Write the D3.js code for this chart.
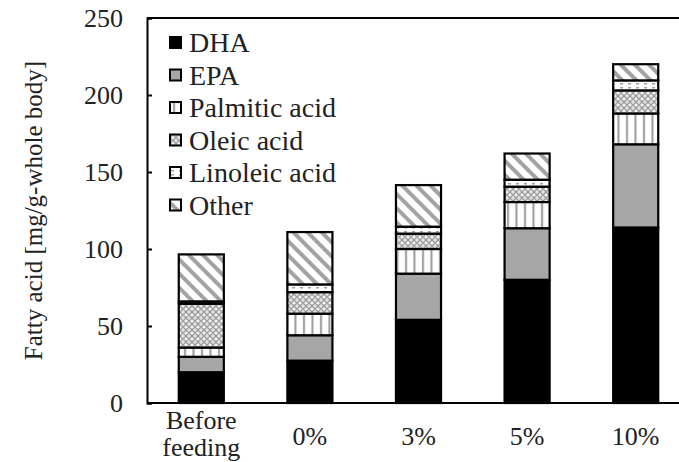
<!DOCTYPE html>
<html>
<head>
<meta charset="utf-8">
<script src="https://cdn.jsdelivr.net/npm/d3@7"></script>
<style>
  body { margin: 0; background: #fff; }
  svg text { font-family: "Liberation Serif", "DejaVu Serif", "Times New Roman", serif; fill: #222; }
</style>
</head>
<body>
<div id="chart"></div>
<script>
// data
const groups = ["Before feeding", "0%", "3%", "5%", "10%"];
const seriesNames = ["DHA", "EPA", "Palmitic acid", "Oleic acid", "Linoleic acid", "Other"];
const dha      = [20, 27.5, 54, 80, 114];
const epa      = [10, 16.5, 30, 33.5, 54];
const palmitic = [6, 14, 16, 17, 20];
const oleic    = [28.5, 14, 10, 10, 15];
const linoleic = [1.5, 5, 4.5, 4.5, 6.5];
const other    = [30.5, 34, 27, 17, 10.5];
const yTicks   = [0, 50, 100, 150, 200, 250];

const allSeries = [dha, epa, palmitic, oleic, linoleic, other];
const fills = ["#000", "#a6a6a6", "url(#palm)", "url(#oleic)", "url(#lino)", "url(#other)"];
const serif = "'Liberation Serif', 'DejaVu Serif', 'Times New Roman', serif";

var margin = {top: 18, right: -11, bottom: 59, left: 147},
    width = 679 - margin.left - margin.right,
    height = 462 - margin.top - margin.bottom;

var svg = d3.select("#chart")
  .append("svg")
  .attr("width", 679)
  .attr("height", 462)
  .attr("font-family", serif);

// patterns
var defs = svg.append("defs");
var p = defs.append("pattern").attr("id", "palm").attr("patternUnits", "userSpaceOnUse")
  .attr("width", 8.5).attr("height", 10);
p.append("rect").attr("width", 8.5).attr("height", 10).attr("fill", "#fff");
p.append("rect").attr("x", 3).attr("width", 2).attr("height", 10).attr("fill", "#9a9a9a");

p = defs.append("pattern").attr("id", "oleic").attr("patternUnits", "userSpaceOnUse")
  .attr("width", 6).attr("height", 6);
p.append("rect").attr("width", 6).attr("height", 6).attr("fill", "#e2e2e2");
p.append("path").attr("d", "M0,3L3,0L6,3L3,6Z").attr("fill", "none").attr("stroke", "#9a9a9a").attr("stroke-width", 1.2);
p.append("circle").attr("cx", 3).attr("cy", 3).attr("r", 0.9).attr("fill", "#fff");

p = defs.append("pattern").attr("id", "lino").attr("patternUnits", "userSpaceOnUse")
  .attr("width", 8).attr("height", 4);
p.append("rect").attr("width", 8).attr("height", 4).attr("fill", "#fff");
p.append("rect").attr("x", 1).attr("y", 1).attr("width", 3).attr("height", 1.5).attr("fill", "#a0a0a0");

p = defs.append("pattern").attr("id", "other").attr("patternUnits", "userSpaceOnUse")
  .attr("width", 10).attr("height", 10).attr("patternTransform", "rotate(-45)");
p.append("rect").attr("width", 10).attr("height", 10).attr("fill", "#fff");
p.append("rect").attr("width", 4).attr("height", 10).attr("fill", "#a3a3a3");

var g = svg.append("g")
  .attr("transform", "translate(" + margin.left + "," + margin.top + ")");

var x = d3.scaleBand()
  .domain(groups)
  .range([0, width])
  .paddingInner(0.585)
  .paddingOuter(0.2925);

var y = d3.scaleLinear()
  .domain([0, 250])
  .range([height, 0]);

// stack
const table = groups.map((grp, i) => {
  var row = {group: grp};
  seriesNames.forEach((s, k) => { row[s] = allSeries[k][i]; });
  return row;
});
const stacked = d3.stack().keys(seriesNames)(table);

g.selectAll("g.layer")
  .data(stacked)
  .enter().append("g")
  .attr("class", "layer")
  .attr("fill", (d, i) => fills[i])
  .selectAll("rect")
  .data(d => d)
  .enter().append("rect")
    .attr("x", d => x(d.data.group))
    .attr("y", d => y(d[1]))
    .attr("width", x.bandwidth())
    .attr("height", d => y(d[0]) - y(d[1]))
    .attr("stroke", "#000")
    .attr("stroke-width", 2.2);

// frame: top line, left axis, bottom axis
g.append("line").attr("x1", 0).attr("x2", 679).attr("y1", 0).attr("y2", 0)
  .attr("stroke", "#000").attr("stroke-width", 2);

var yAxis = g.append("g")
  .call(d3.axisLeft(y).tickValues(yTicks).tickSize(-5).tickPadding(24));
yAxis.attr("font-family", serif);
yAxis.select(".domain").attr("stroke-width", 2);
yAxis.selectAll(".tick line").attr("stroke-width", 2);
yAxis.selectAll("text").attr("font-size", 26).attr("fill", "#222");

g.append("line").attr("x1", 0).attr("x2", 679).attr("y1", height).attr("y2", height)
  .attr("stroke", "#000").attr("stroke-width", 2);

// x labels
groups.forEach(grp => {
  var words = grp.split(" ");
  var cx = x(grp) + x.bandwidth() / 2;
  var t = g.append("text")
    .attr("text-anchor", "middle")
    .attr("font-size", 26)
    .attr("x", cx);
  if (words.length > 1) {
    t.attr("y", height + 26);
    words.forEach((w, i) => {
      t.append("tspan").attr("x", cx).attr("dy", i === 0 ? 0 : 27).text(w);
    });
  } else {
    t.attr("y", height + 42).text(grp);
  }
});

// y title
svg.append("text")
  .attr("transform", "translate(42," + (margin.top + height / 2) + ") rotate(-90)")
  .attr("text-anchor", "middle")
  .attr("font-size", 25)
  .text("Fatty acid [mg/g-whole body]");

// legend
var legend = g.selectAll("g.leg")
  .data(seriesNames)
  .enter().append("g")
  .attr("class", "leg")
  .attr("transform", (d, i) => "translate(23," + (25 + i * 32.5) + ")");
legend.append("rect")
  .attr("x", 0).attr("y", -6)
  .attr("width", 11).attr("height", 11)
  .attr("fill", (d, i) => fills[i])
  .attr("stroke", "#000").attr("stroke-width", 2);
legend.append("text")
  .attr("x", 19).attr("y", 9)
  .attr("font-size", 28)
  .text(d => d);
</script>
</body>
</html>
